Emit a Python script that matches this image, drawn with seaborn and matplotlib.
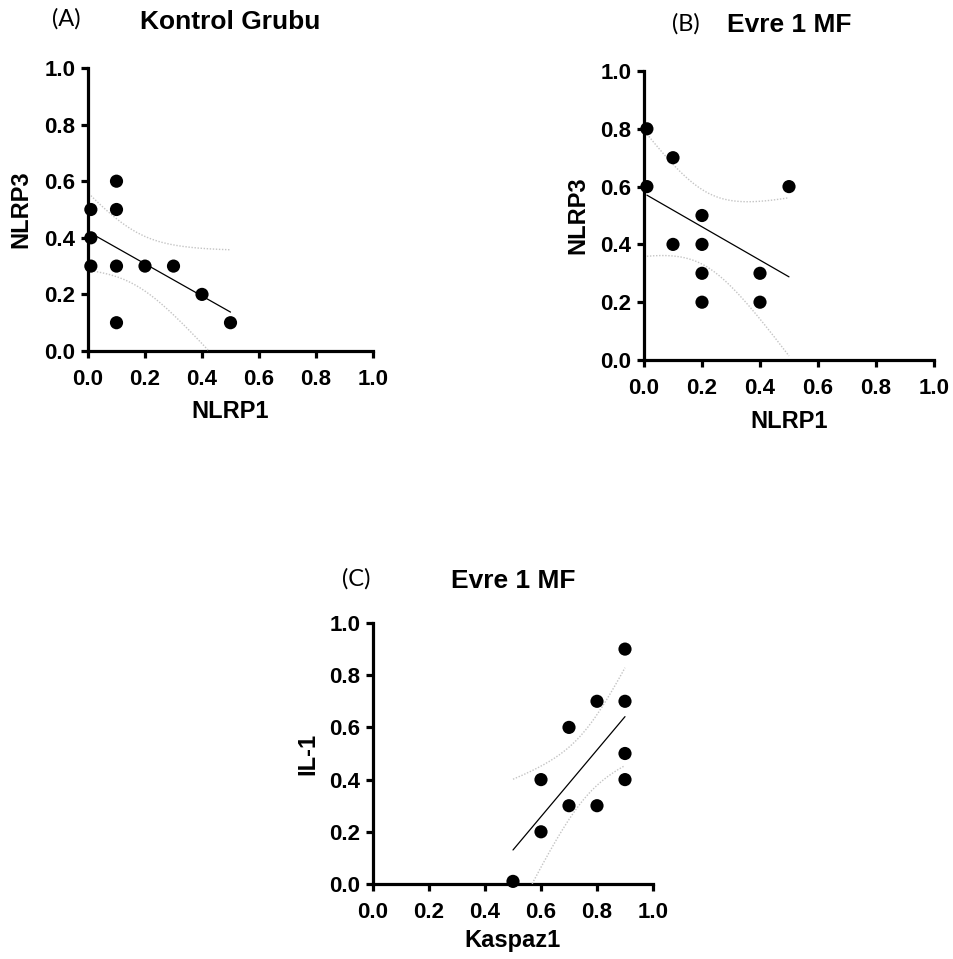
import numpy as np
import pandas as pd
import matplotlib
matplotlib.use("Agg")
import matplotlib.pyplot as plt
import seaborn as sns

# ---- data ----
a_nlrp1 = [0.01, 0.01, 0.01, 0.1, 0.1, 0.1, 0.1, 0.2, 0.3, 0.4, 0.5]
a_nlrp3 = [0.5, 0.4, 0.3, 0.6, 0.5, 0.3, 0.1, 0.3, 0.3, 0.2, 0.1]

b_nlrp1 = [0.01, 0.01, 0.1, 0.1, 0.2, 0.2, 0.2, 0.2, 0.4, 0.4, 0.5]
b_nlrp3 = [0.8, 0.6, 0.7, 0.4, 0.5, 0.4, 0.3, 0.2, 0.3, 0.2, 0.6]

c_kaspaz1 = [0.5, 0.6, 0.6, 0.7, 0.7, 0.8, 0.8, 0.9, 0.9, 0.9, 0.9]
c_il1 = [0.01, 0.4, 0.2, 0.6, 0.3, 0.7, 0.3, 0.9, 0.7, 0.5, 0.4]

tick_values = [0.0, 0.2, 0.4, 0.6, 0.8, 1.0]
tick_labels = ["0.0", "0.2", "0.4", "0.6", "0.8", "1.0"]

panel_letters = ["(A)", "(B)", "(C)"]
panel_titles = ["Kontrol Grubu", "Evre 1 MF", "Evre 1 MF"]
x_labels = ["NLRP1", "NLRP1", "Kaspaz1"]
y_labels = ["NLRP3", "NLRP3", "IL-1"]

T_95 = 2.262  # two-sided 95% t quantile for n-2 = 9 degrees of freedom

sns.set_theme(style="ticks")
plt.rcParams["font.family"] = ["Liberation Sans", "DejaVu Sans"]
plt.rcParams["font.weight"] = "bold"

W, H = 954, 959
fig = plt.figure(figsize=(W / 100, H / 100), dpi=100)


def ax_px(l, t, r, b):
    return fig.add_axes([l / W, 1 - b / H, (r - l) / W, (b - t) / H])


def draw_panel(ax, x, y, xlabel, ylabel, box, xlab_y, ylab_x):
    l, t, r, b = box
    df = pd.DataFrame({xlabel: x, ylabel: y})
    sns.regplot(data=df, x=xlabel, y=ylabel, ax=ax, ci=None, truncate=True,
                scatter_kws=dict(s=90, color="black", edgecolor="none",
                                 zorder=5, clip_on=False, alpha=1),
                line_kws=dict(color="black", lw=0.9, zorder=4))
    # 95% confidence band as dotted curves
    xa = np.asarray(x, float)
    ya = np.asarray(y, float)
    n = len(xa)
    slope, icpt = np.polyfit(xa, ya, 1)
    resid = ya - (slope * xa + icpt)
    s = np.sqrt(np.sum(resid ** 2) / (n - 2))
    sxx = np.sum((xa - xa.mean()) ** 2)
    grid = np.linspace(xa.min(), xa.max(), 200)
    fit = slope * grid + icpt
    half = T_95 * s * np.sqrt(1 / n + (grid - xa.mean()) ** 2 / sxx)
    for band in (fit + half, fit - half):
        mask = (band >= 0) & (band <= 1)
        ax.plot(grid[mask], band[mask], ls=(0, (1, 1.2)), color="#c4c4c4",
                lw=1.0, zorder=3)

    ax.set_xlim(0, 1)
    ax.set_ylim(0, 1)
    ax.set_xticks(tick_values)
    ax.set_xticklabels(tick_labels)
    ax.set_yticks(tick_values)
    ax.set_yticklabels(tick_labels)
    for sp in ("top", "right"):
        ax.spines[sp].set_visible(False)
    for sp in ("left", "bottom"):
        ax.spines[sp].set_linewidth(2.3)
        ax.spines[sp].set_color("black")
    ax.tick_params(axis="both", direction="out", length=5, width=2.3,
                   color="black", labelsize=16)
    ax.tick_params(axis="x", pad=8)
    ax.tick_params(axis="y", pad=4)
    for lab in ax.get_xticklabels() + ax.get_yticklabels():
        lab.set_fontweight("bold")
        lab.set_color("black")
    ax.set_xlabel(xlabel, fontsize=17, fontweight="bold", color="black")
    ax.set_ylabel(ylabel, fontsize=17, fontweight="bold", color="black")
    ax.yaxis.label.set_verticalalignment("center")
    ax.xaxis.label.set_verticalalignment("center")
    ax.xaxis.set_label_coords(0.5, (b - xlab_y) / (b - t))
    ax.yaxis.set_label_coords((ylab_x - l) / (r - l), 0.5)
    ax.set_facecolor("white")


boxes = [(88, 68, 373, 351), (644, 71, 934, 360), (373, 623, 653, 884)]
xlab_ys = [411, 422, 941]
ylab_xs = [21, 578, 308]
data = [(a_nlrp1, a_nlrp3), (b_nlrp1, b_nlrp3), (c_kaspaz1, c_il1)]

for i in range(3):
    ax = ax_px(*boxes[i])
    draw_panel(ax, data[i][0], data[i][1], x_labels[i], y_labels[i],
               boxes[i], xlab_ys[i], ylab_xs[i])

letter_pos = [(66, 19), (686, 24), (356, 579)]
title_pos = [(230, 22), (789, 25), (513, 581)]
for i in range(3):
    fig.text(letter_pos[i][0] / W, 1 - letter_pos[i][1] / H, panel_letters[i],
             ha="center", va="center", fontsize=17, fontweight="normal",
             family=["Lato", "DejaVu Sans"], color="black")
    fig.text(title_pos[i][0] / W, 1 - title_pos[i][1] / H, panel_titles[i],
             ha="center", va="center", fontsize=19, fontweight="bold",
             color="black")

fig.savefig("out.png", dpi=100, facecolor="white")
